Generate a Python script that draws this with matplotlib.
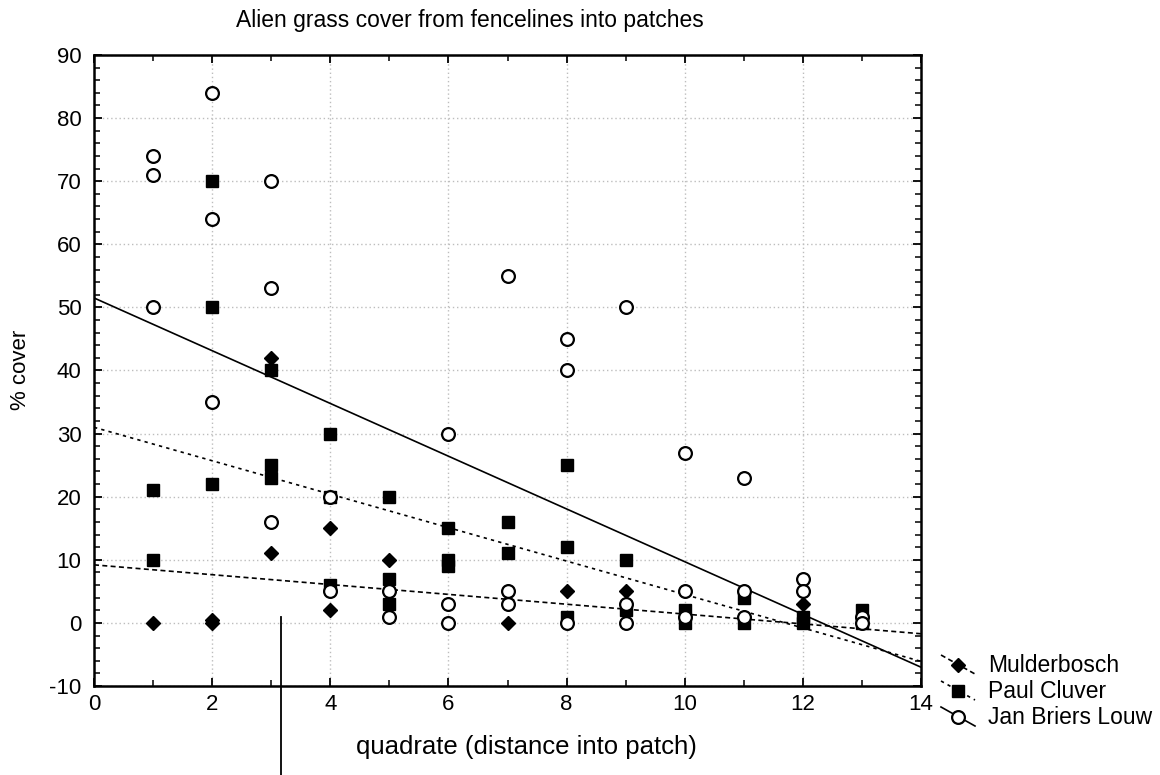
import numpy as np
import matplotlib
matplotlib.use("Agg")
import matplotlib.pyplot as plt
from matplotlib.lines import Line2D
from matplotlib.ticker import MultipleLocator

plt.rcParams['font.family'] = ['Liberation Sans', 'DejaVu Sans']
plt.rcParams['axes.unicode_minus'] = False

# ---- data ----
mul_x = [1, 2, 2, 3, 3, 4, 4, 5, 7, 8, 9, 12]
mul_y = [0, 0, 0.5, 42, 11, 15, 2, 10, 0, 5, 5, 3]

pc_x = [1, 1, 2, 2, 2, 3, 3, 3, 4, 4, 4, 5, 5, 5, 6, 6, 6, 7, 7, 8, 8, 8, 9, 9, 10, 10, 11, 11, 12, 12, 13, 13]
pc_y = [21, 10, 70, 50, 22, 40, 25, 23, 30, 20, 6, 20, 7, 3, 15, 10, 9, 16, 11, 25, 12, 1, 10, 2, 2, 0, 4, 0, 1, 0, 2, 0]

jbl_x = [1, 1, 1, 2, 2, 2, 3, 3, 3, 4, 4, 5, 5, 6, 6, 6, 7, 7, 7, 8, 8, 8, 9, 9, 9, 10, 10, 10, 11, 11, 11, 12, 12, 13, 13]
jbl_y = [74, 71, 50, 84, 64, 35, 70, 53, 16, 20, 5, 5, 1, 30, 3, 0, 55, 5, 3, 45, 40, 0, 50, 3, 0, 27, 5, 1, 23, 5, 1, 7, 5, 1, 0]

series_names = ["Mulderbosch", "Paul Cluver", "Jan Briers Louw"]
fit_intercepts = [9.2, 31.0, 51.5]
fit_slopes = [-0.78, -2.65, -4.18]
fit_range = [0, 14]

title = "Alien grass cover from fencelines into patches"
xlabel = "quadrate (distance into patch)"
ylabel = "% cover"

W, H = 1160, 775
fig = plt.figure(figsize=(W / 100, H / 100), dpi=100)
ax = fig.add_axes([94 / W, 1 - 686 / H, (921 - 94) / W, (686 - 55) / H])

ax.set_xlim(0, 14)
ax.set_ylim(-10, 90)
ax.xaxis.set_major_locator(MultipleLocator(2))
ax.xaxis.set_minor_locator(MultipleLocator(1))
ax.yaxis.set_major_locator(MultipleLocator(10))
ax.yaxis.set_minor_locator(MultipleLocator(2))
ax.grid(True, which='major', color='#bdbdbd', linestyle=(0, (1, 2)), linewidth=1.0)
ax.set_axisbelow(True)
ax.tick_params(which='both', direction='in', top=True, right=True, labelsize=16, color='black')
ax.tick_params(which='major', length=6, width=1.3)
ax.tick_params(which='minor', length=4, width=1.1)
ax.tick_params(axis='y', pad=9)
ax.tick_params(axis='x', pad=6)
for s in ax.spines.values():
    s.set_linewidth(1.8)

xs = np.array(fit_range, dtype=float)
styles = [(0, (3, 2)), (0, (2, 2.5)), '-']
for b0, b1, ls in zip(fit_intercepts, fit_slopes, styles):
    ax.plot(xs, b0 + b1 * xs, color='black', linestyle=ls, linewidth=1.2, zorder=2, clip_on=True)

ax.plot(mul_x, mul_y, linestyle='none', marker='D', markersize=6.8, color='black', zorder=3)
ax.plot(pc_x, pc_y, linestyle='none', marker='s', markersize=8.6, color='black', zorder=4)
ax.plot(jbl_x, jbl_y, linestyle='none', marker='o', markersize=9.2, markerfacecolor='white',
        markeredgecolor='black', markeredgewidth=1.6, zorder=5)

fig.text(469.5 / W, 1 - 20 / H, title, ha='center', va='center', fontsize=16.5)
fig.text(526.5 / W, 1 - 747 / H, xlabel, ha='center', va='center', fontsize=18.5)
fig.text(20 / W, 1 - 370 / H, ylabel, ha='center', va='center', rotation=90, fontsize=16)

# legend (Statistica-style slanted line samples)
def fx(px):
    return px / W

def fy(py):
    return 1 - py / H

leg_rows = [665, 691, 717]
leg_markers = [dict(marker='D', markersize=6.8, color='black'),
               dict(marker='s', markersize=8.6, color='black'),
               dict(marker='o', markersize=9.2, markerfacecolor='white', markeredgecolor='black', markeredgewidth=1.6)]
for name, row, ls, mk in zip(series_names, leg_rows, styles, leg_markers):
    fig.add_artist(Line2D([fx(941), fx(975)], [fy(row - 10), fy(row + 9)], color='black',
                          linestyle=ls, linewidth=1.2, transform=fig.transFigure))
    fig.add_artist(Line2D([fx(958)], [fy(row)], linestyle='none', transform=fig.transFigure, **mk))
    fig.text(fx(988), fy(row), name, ha='left', va='center', fontsize=16.5)

# stray vertical stroke present in the reference image
fig.add_artist(Line2D([fx(281), fx(281)], [fy(617), fy(775)], color='black', linewidth=1.3,
                      transform=fig.transFigure))

fig.savefig("out.png", dpi=100)
